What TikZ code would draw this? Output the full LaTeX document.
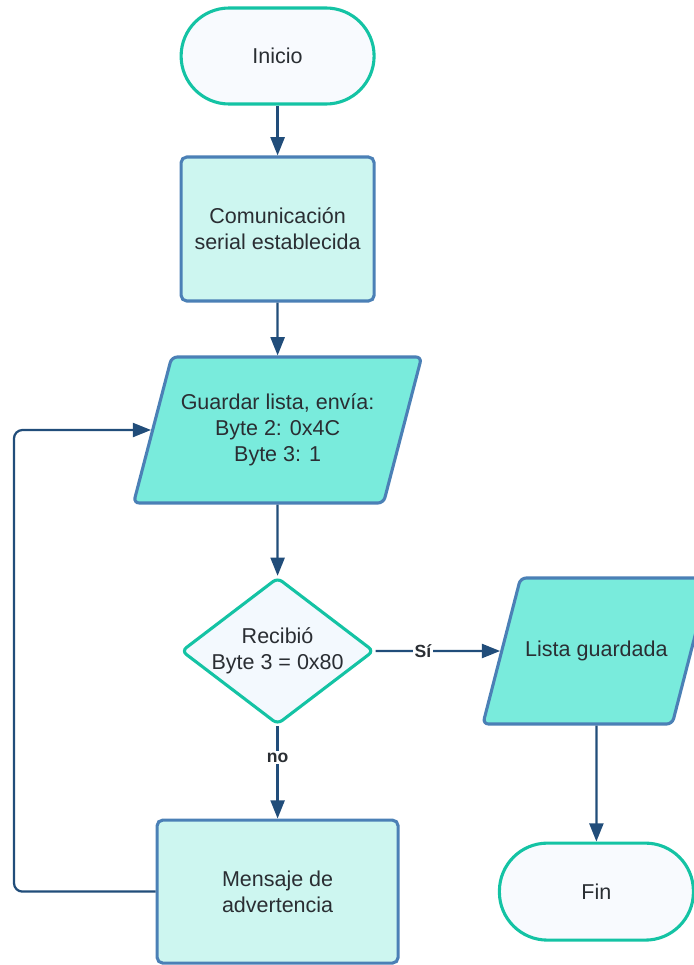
\documentclass[tikz,border=0pt]{standalone}
\usepackage{fontspec}
\setmainfont{Liberation Sans}
\usetikzlibrary{shapes.geometric, arrows.meta}
\definecolor{termline}{HTML}{14C3A4}
\definecolor{termfill}{HTML}{F8FAFE}
\definecolor{procline}{HTML}{4B80B6}
\definecolor{procfill}{HTML}{CDF6F0}
\definecolor{iofill}{HTML}{79EBDC}
\definecolor{decfill}{HTML}{F3F9FE}
\definecolor{arrowc}{HTML}{214D7A}
\definecolor{txt}{HTML}{2A2E33}

\begin{document}
\begin{tikzpicture}[
    box/.style={draw, line width=2.2pt, align=center, text=txt, font=\fontsize{15.3}{18.5}\selectfont},
    term/.style={box, rectangle, rounded corners=1.2cm, fill=termfill, draw=termline, minimum width=4.825cm, minimum height=2.4cm},
    proc/.style={box, rectangle, rounded corners=4pt, fill=procfill, draw=procline},
    io/.style={box, trapezium, trapezium stretches body, rounded corners=4pt, fill=iofill, draw=procline},
    decision/.style={box, diamond, aspect=1.31, inner sep=0pt, rounded corners=4pt, fill=decfill, draw=termline, minimum width=4.6cm, minimum height=3.5cm},
    arrow/.style={-{Triangle[length=13pt, width=10pt]}, line width=1.6pt, draw=arrowc},
    lbl/.style={font=\bfseries\fontsize{12.5}{14}\selectfont, text=txt, fill=white, inner sep=1pt}
]
\useasboundingbox (0, 0) rectangle (17.35, -24.125);

% Main column
\node[term] (inicio) at (6.94, -1.40) {Inicio};
\node[proc, minimum width=4.825cm, minimum height=3.6cm] (comm) at (6.94, -5.725) {Comunicación\\serial establecida};
\node[io, trapezium left angle=65, trapezium right angle=115, minimum width=7.2cm, minimum height=3.65cm] (guardar) at (6.94, -10.75) {Guardar lista, envía:\\Byte 2: 0x4C\\Byte 3: 1};
\node[decision] (recibio) at (6.94, -16.275) {Recibió\\Byte 3 = 0x80};
\node[proc, minimum width=6.025cm, minimum height=3.575cm] (aviso) at (6.94, -22.29) {Mensaje de\\advertencia};
\coordinate (loop) at (0.35, -22.29);

% Right column
\node[io, trapezium left angle=38, trapezium right angle=142, minimum width=5.6cm, minimum height=3.65cm] (lista) at (14.91, -16.275) {Lista guardada};
\node[term, minimum width=4.85cm, minimum height=2.425cm] (fin) at (14.91, -22.29) {Fin};

\draw[arrow] (inicio) -- (comm);
\draw[arrow] (comm) -- (guardar);
\draw[arrow] (guardar) -- (recibio);
\draw[arrow] (recibio.east) -- node[lbl, pos=0.38] {Sí} (lista.west);
\draw[arrow] (recibio.south) -- node[lbl, pos=0.34] {no} (aviso.north);
\draw[arrow] (lista) -- (fin);
\draw[arrow, rounded corners=6pt] (aviso.west) -- (loop) |- (guardar.west);

\end{tikzpicture}
\end{document}
